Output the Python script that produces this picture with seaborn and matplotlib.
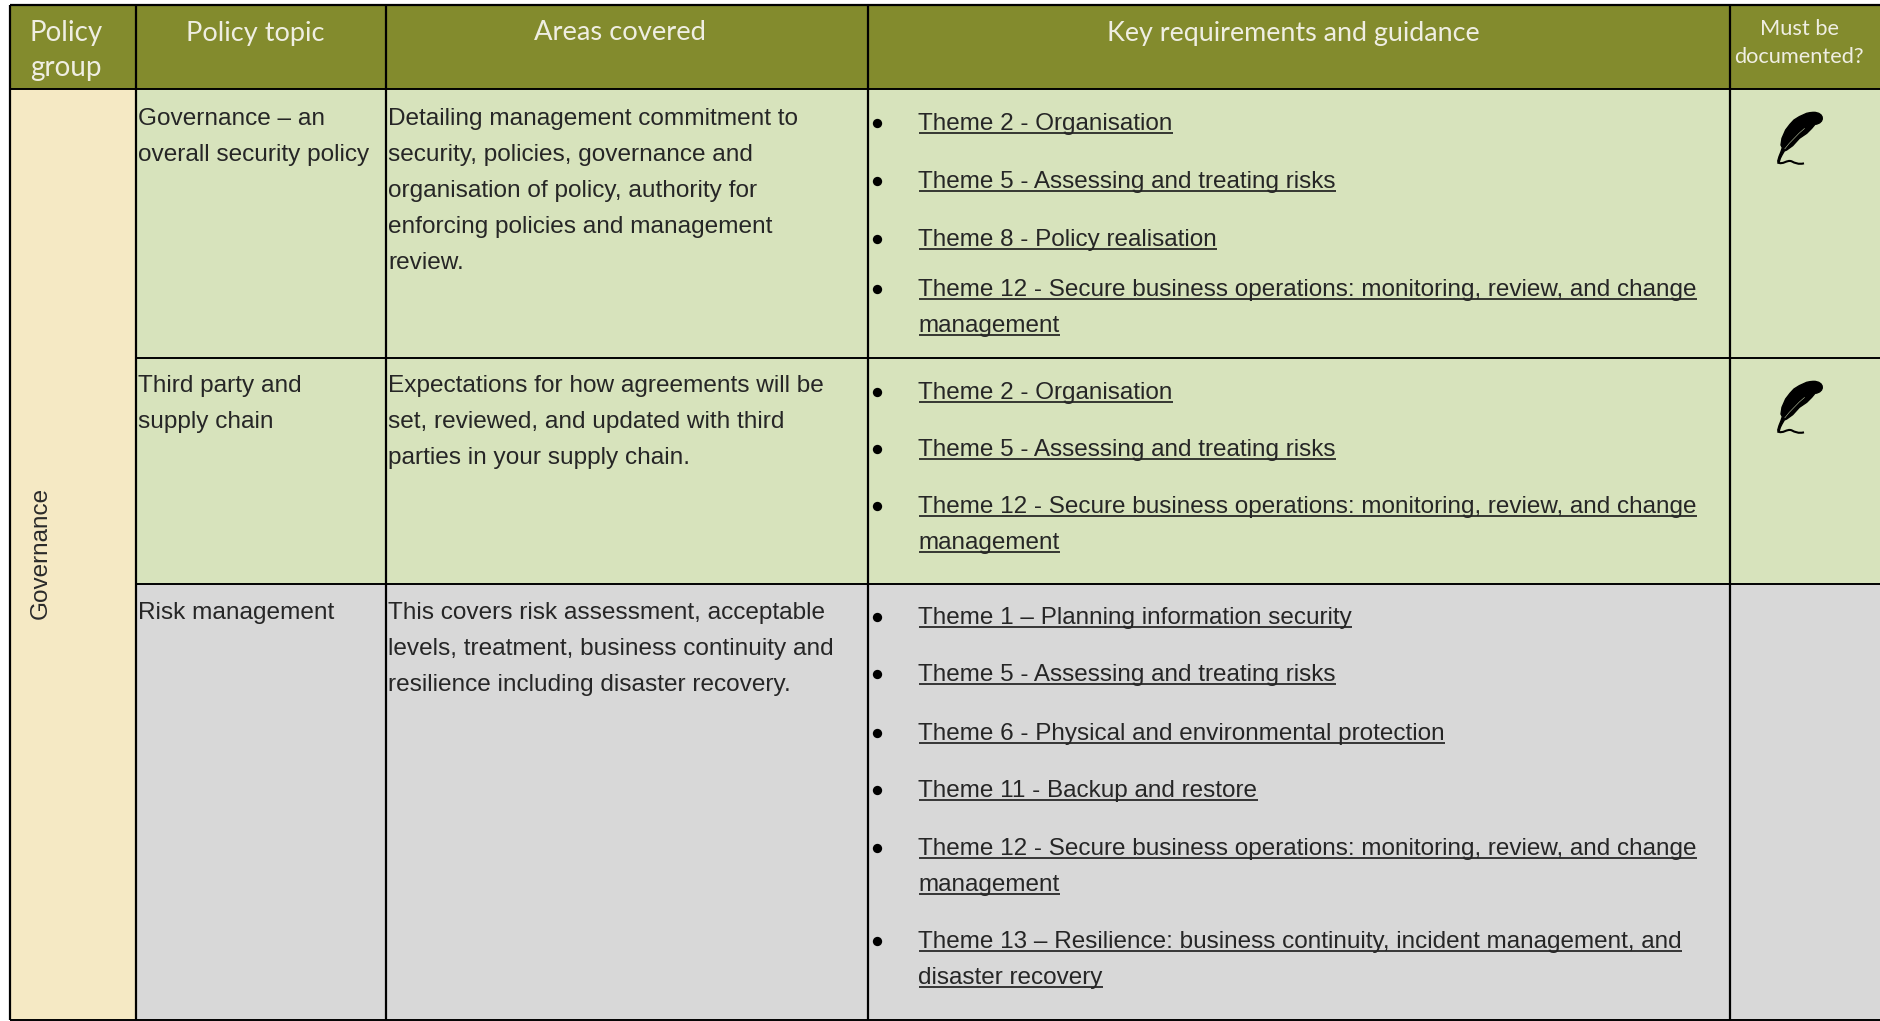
import numpy as np
import matplotlib
matplotlib.use("Agg")
import matplotlib.pyplot as plt
import seaborn as sns
from matplotlib.colors import ListedColormap
from matplotlib.patches import PathPatch
from matplotlib.path import Path

# Table content
headers = ["Policy\ngroup", "Policy topic", "Areas covered", "Key requirements and guidance", "Must be\ndocumented?"]
group_name = "Governance"
topics = [["Governance \u2013 an", "overall security policy"],
          ["Third party and", "supply chain"],
          ["Risk management"]]
areas = [["Detailing management commitment to", "security, policies, governance and",
          "organisation of policy, authority for", "enforcing policies and management", "review."],
         ["Expectations for how agreements will be", "set, reviewed, and updated with third",
          "parties in your supply chain."],
         ["This covers risk assessment, acceptable", "levels, treatment, business continuity and",
          "resilience including disaster recovery."]]
# each item is the wrapped lines of one bullet
themes = [[["Theme 2 - Organisation"], ["Theme 5 - Assessing and treating risks"], ["Theme 8 - Policy realisation"],
           ["Theme 12 - Secure business operations: monitoring, review, and change", "management"]],
          [["Theme 2 - Organisation"], ["Theme 5 - Assessing and treating risks"],
           ["Theme 12 - Secure business operations: monitoring, review, and change", "management"]],
          [["Theme 1 \u2013 Planning information security"], ["Theme 5 - Assessing and treating risks"],
           ["Theme 6 - Physical and environmental protection"], ["Theme 11 - Backup and restore"],
           ["Theme 12 - Secure business operations: monitoring, review, and change", "management"],
           ["Theme 13 \u2013 Resilience: business continuity, incident management, and", "disaster recovery"]]]
documented = [True, True, False]

# Layout in reference pixels
W, H = 1881, 1021
col_x = [10, 136, 386, 868, 1730, W]
row_y = [5, 89, 358, 584, 1020]
text_base = [125, 392, 619]
theme_base = [[130, 188, 246, 296], [399, 456, 513], [624, 681, 740, 797, 855, 948]]
line_gap = 36

c_header, c_green, c_yellow, c_grey = "#838b2d", "#d7e3bc", "#f5e9c4", "#d8d8d8"

sns.set_theme(style="white")
plt.rcParams["font.family"] = ["Liberation Sans", "DejaVu Sans"]

# colour code per pixel: 0 white, 1 header, 2 group, 3 green, 4 grey
grid = np.zeros((H, W), dtype=int)
grid[row_y[0]:row_y[1], col_x[0]:] = 1
grid[row_y[1]:row_y[4], col_x[0]:col_x[1]] = 2
grid[row_y[1]:row_y[3], col_x[1]:] = 3
grid[row_y[3]:row_y[4], col_x[1]:] = 4

fig = plt.figure(figsize=(W / 100, H / 100), dpi=100)
ax = fig.add_axes([0, 0, 1, 1])
sns.heatmap(grid, ax=ax, cmap=ListedColormap(["white", c_header, c_yellow, c_green, c_grey]), vmin=0, vmax=4,
            cbar=False, xticklabels=False, yticklabels=False, rasterized=True)
ax.set_xlim(0, W)
ax.set_ylim(H, 0)
ax.axis("off")

# Borders, the group cell spans all three rows
ax.vlines(col_x[:5], row_y[0], row_y[4], color="black", lw=1.6)
ax.hlines(row_y[0], col_x[0], W, color="black", lw=1.6)
ax.hlines([row_y[1], row_y[4]], col_x[0], W, color="black", lw=1.4)
ax.hlines(row_y[2:4], col_x[1], W, color="black", lw=1.4)

# Header text
head_font = dict(family=["Lato", "DejaVu Sans"], color="#efeee2", ha="center", va="center")
ax.text(66, 33, headers[0].split("\n")[0], fontsize=20, **head_font)
ax.text(66, 68, headers[0].split("\n")[1], fontsize=20, **head_font)
ax.text(255, 33, headers[1], fontsize=19.5, **head_font)
ax.text(620, 33, headers[2], fontsize=19.7, **head_font)
ax.text(1293, 33, headers[3], fontsize=19.4, **head_font)
ax.text(1799, 29, headers[4].split("\n")[0], fontsize=15.7, **head_font)
ax.text(1799, 57, headers[4].split("\n")[1], fontsize=15.7, **head_font)

ax.text(41, 553, group_name, rotation=90, ha="center", va="center", fontsize=17.5, color="#2a2a2a")

body = dict(fontsize=17.55, color="#262626", va="baseline", ha="left")
link = dict(fontsize=17.5, color="#262626", va="baseline", ha="left")
renderer = fig.canvas.get_renderer()


def underlined(x, y, s):
    t = ax.text(x, y, s, **link)
    box = t.get_window_extent(renderer)
    ax.hlines(y + 3, x, x + box.width, color="#1a1a1a", lw=1.2)


# Feather icon, points in a 180x195 box scaled down by 3
feather = Path(
    np.array([(130, 22), (165, 22), (165, 55), (135, 58),
              (125, 70), (110, 85), (88, 100), (68, 122), (50, 135), (43, 138),
              (36, 150), (31, 160), (28, 170), (23, 169), (27, 155), (33, 140), (37, 128),
              (33, 120), (36, 100), (47, 75), (60, 58), (72, 45), (88, 35), (110, 25), (120, 23), (130, 22)],
             dtype=float) / 3,
    [Path.MOVETO, Path.CURVE4, Path.CURVE4, Path.CURVE4] + [Path.LINETO] * 22)
vein = Path(np.array([(44, 132), (70, 98), (104, 70)], dtype=float) / 3, [Path.MOVETO, Path.CURVE3, Path.CURVE3])
squiggle = Path(np.array([(22, 172), (40, 181), (50, 163), (65, 169), (75, 174), (85, 179), (102, 175)], dtype=float) / 3,
                [Path.MOVETO, Path.CURVE4, Path.CURVE4, Path.CURVE4, Path.CURVE4, Path.CURVE4, Path.CURVE4])

for r in range(3):
    top = row_y[r + 1]
    for i, s in enumerate(topics[r]):
        ax.text(col_x[1] + 2, text_base[r] + i * line_gap, s, **body)
    for i, s in enumerate(areas[r]):
        ax.text(col_x[2] + 2, text_base[r] + i * line_gap, s, **body)
    for base, item in zip(theme_base[r], themes[r]):
        ax.scatter([877], [base - 7], s=45, color="black", linewidths=0, zorder=3)
        for i, s in enumerate(item):
            underlined(918.5, base + i * line_gap, s)
    if documented[r]:
        off = np.array([1770, top + 16])
        ax.add_patch(PathPatch(Path(feather.vertices + off, feather.codes), fc="black", ec="black", lw=1.0))
        ax.add_patch(PathPatch(Path(vein.vertices + off, vein.codes), fc="none", ec=c_green, lw=0.35))
        ax.add_patch(PathPatch(Path(squiggle.vertices + off, squiggle.codes), fc="none", ec="black", lw=1.5))

fig.savefig("out.png", dpi=100)
